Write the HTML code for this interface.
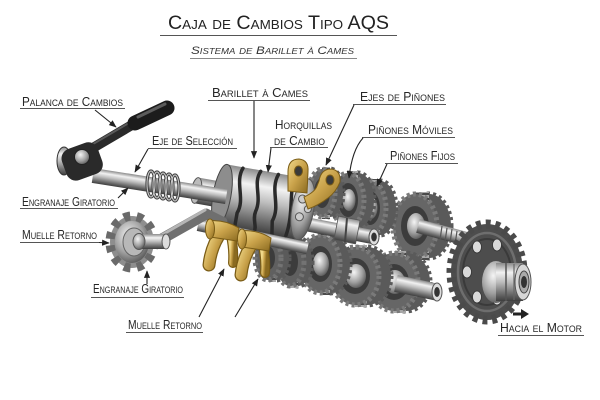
<!DOCTYPE html>
<html><head><meta charset="utf-8"><style>
html,body{margin:0;padding:0;background:#fff;}
svg{display:block;}
.lb{font-family:"Liberation Sans",sans-serif;font-variant:small-caps;fill:#262626;font-size:12.5px;}
.ul{stroke:#555;stroke-width:1;}
.ld{stroke:#222;stroke-width:1.1;fill:none;marker-end:url(#ar);}
</style></head><body>
<svg width="600" height="400" viewBox="0 0 600 400" xmlns="http://www.w3.org/2000/svg">
<defs>
<linearGradient id="m" x1="0" y1="0" x2="0" y2="1">
<stop offset="0" stop-color="#8a8a8a"/><stop offset=".25" stop-color="#f2f2f2"/><stop offset=".5" stop-color="#bdbdbd"/><stop offset=".8" stop-color="#6e6e6e"/><stop offset="1" stop-color="#3e3e3e"/>
</linearGradient>
<radialGradient id="mr" cx=".4" cy=".35" r=".7"><stop offset="0" stop-color="#f5f5f5"/><stop offset=".6" stop-color="#a0a0a0"/><stop offset="1" stop-color="#555"/></radialGradient>
<linearGradient id="g" x1="0" y1="0" x2="1" y2="1"><stop offset="0" stop-color="#f1d98a"/><stop offset=".5" stop-color="#c9a24a"/><stop offset="1" stop-color="#8a6a20"/></linearGradient>
<pattern id="st" width="6" height="5" patternUnits="userSpaceOnUse"><rect width="6" height="5" fill="#a8a8a8"/><rect y="3" width="6" height="2" fill="#4a4a4a"/></pattern>
<marker id="ar" viewBox="0 0 10 10" refX="9" refY="5" markerWidth="7" markerHeight="7" orient="auto"><path d="M0,1 L10,5 L0,9 z" fill="#222"/></marker>
</defs>

<!-- upper main shaft (behind) -->
<rect x="282" y="189" width="140" height="12" transform="rotate(12 282 195)" fill="url(#m)"/>

<!-- upper gears right to left -->
<g>
<ellipse cx="429" cy="226" rx="22" ry="32" fill="#5a5a5a" stroke="#5a5a5a" stroke-width="5" stroke-dasharray="3 3"/>
<rect x="415" y="192" width="14" height="68" fill="url(#st)"/>
<ellipse cx="415" cy="226" rx="22" ry="32" fill="#666" stroke="#7a7a7a" stroke-width="5" stroke-dasharray="3 3"/>
<ellipse cx="415" cy="226" rx="14" ry="20" fill="#3c3c3c"/>
<ellipse cx="416" cy="226" rx="9" ry="13" fill="url(#mr)"/>
</g>
<!-- upper shaft spline end -->
<rect x="418" y="219" width="52" height="14" transform="rotate(15 418 226)" fill="url(#m)"/>
<g stroke="#555" stroke-width="1.2"><line x1="442" y1="226" x2="440" y2="240"/><line x1="447" y1="228" x2="445" y2="242"/><line x1="452" y1="229" x2="450" y2="243"/><line x1="457" y1="231" x2="455" y2="245"/></g>
<g>
<ellipse cx="380" cy="208" rx="16" ry="27" fill="#5a5a5a" stroke="#5a5a5a" stroke-width="5" stroke-dasharray="3 3"/>
<rect x="370" y="179" width="10" height="58" fill="url(#st)"/>
<ellipse cx="370" cy="208" rx="16" ry="27" fill="#666" stroke="#7a7a7a" stroke-width="5" stroke-dasharray="3 3"/>
<ellipse cx="370" cy="208" rx="10" ry="17" fill="#3c3c3c"/>
<ellipse cx="371" cy="208" rx="6.5" ry="11" fill="url(#mr)"/>
</g>
<g>
<ellipse cx="358" cy="200" rx="16" ry="27" fill="#5a5a5a" stroke="#5a5a5a" stroke-width="5" stroke-dasharray="3 3"/>
<rect x="348" y="171" width="10" height="58" fill="url(#st)"/>
<ellipse cx="348" cy="200" rx="16" ry="27" fill="#666" stroke="#7a7a7a" stroke-width="5" stroke-dasharray="3 3"/>
<ellipse cx="348" cy="200" rx="10" ry="17" fill="#3c3c3c"/>
<ellipse cx="349" cy="200" rx="6.5" ry="11" fill="url(#mr)"/>
</g>
<g>
<ellipse cx="330" cy="193" rx="13" ry="24" fill="#5a5a5a" stroke="#5a5a5a" stroke-width="5" stroke-dasharray="3 3"/>
<rect x="322" y="167" width="8" height="52" fill="url(#st)"/>
<ellipse cx="322" cy="193" rx="13" ry="24" fill="#666" stroke="#7a7a7a" stroke-width="5" stroke-dasharray="3 3"/>
<ellipse cx="322" cy="193" rx="8" ry="15" fill="#3c3c3c"/>
</g>

<!-- sprocket -->
<g>
<ellipse cx="487" cy="272" rx="36" ry="48" fill="#4d4d4d" stroke="#4a4a4a" stroke-width="9" stroke-dasharray="4.7 4.7"/>
<ellipse cx="487" cy="272" rx="29" ry="39" fill="none" stroke="#6e6e6e" stroke-width="2.5"/>
<ellipse cx="487" cy="272" rx="24" ry="33" fill="none" stroke="#3a3a3a" stroke-width="2"/>
<g fill="#d9d9d9" stroke="#333" stroke-width=".8">
<ellipse cx="467" cy="272" rx="4.5" ry="6"/><ellipse cx="477" cy="297" rx="4.5" ry="6"/><ellipse cx="477" cy="247" rx="4.5" ry="6"/><ellipse cx="497" cy="299" rx="4.5" ry="6"/><ellipse cx="497" cy="245" rx="4.5" ry="6"/>
</g>
<ellipse cx="496" cy="282" rx="14" ry="21" fill="url(#mr)"/>
<rect x="496" y="263" width="27" height="38" fill="url(#m)"/>
<line x1="506" y1="263" x2="506" y2="301" stroke="#555" stroke-width="1.5"/>
<line x1="514" y1="264" x2="514" y2="300" stroke="#666" stroke-width="1.2"/>
<ellipse cx="523" cy="282" rx="8" ry="18" fill="#d6d6d6" stroke="#555"/>
<ellipse cx="524" cy="282" rx="5" ry="11" fill="#aaa" stroke="#444"/>
<ellipse cx="524" cy="282" rx="3" ry="6" fill="#333"/>
</g>

<!-- lower shaft -->
<rect x="290" y="243" width="115" height="16" transform="rotate(16 290 251)" fill="url(#m)"/>
<!-- lower gears right to left -->
<g>
<ellipse cx="406" cy="282" rx="24" ry="29" fill="#5a5a5a" stroke="#5a5a5a" stroke-width="5" stroke-dasharray="3 3"/>
<rect x="394" y="251" width="12" height="62" fill="url(#st)"/>
<ellipse cx="394" cy="282" rx="24" ry="29" fill="#666" stroke="#7a7a7a" stroke-width="5" stroke-dasharray="3 3"/>
<ellipse cx="394" cy="282" rx="15" ry="18" fill="#3c3c3c"/>
<ellipse cx="395" cy="282" rx="10" ry="12" fill="url(#mr)"/>
</g>
<rect x="396" y="275" width="42" height="17" transform="rotate(12 396 283)" fill="url(#m)"/>
<ellipse cx="437" cy="292" rx="5" ry="9" fill="#ddd" stroke="#555"/>
<ellipse cx="437" cy="292" rx="2.8" ry="5" fill="#333"/>
<g>
<ellipse cx="367" cy="276" rx="24" ry="29" fill="#5a5a5a" stroke="#5a5a5a" stroke-width="5" stroke-dasharray="3 3"/>
<rect x="355" y="245" width="12" height="62" fill="url(#st)"/>
<ellipse cx="355" cy="276" rx="24" ry="29" fill="#666" stroke="#7a7a7a" stroke-width="5" stroke-dasharray="3 3"/>
<ellipse cx="355" cy="276" rx="15" ry="18" fill="#3c3c3c"/>
<ellipse cx="356" cy="276" rx="10" ry="12" fill="url(#mr)"/>
</g>
<g>
<ellipse cx="330" cy="264" rx="20" ry="29" fill="#5a5a5a" stroke="#5a5a5a" stroke-width="5" stroke-dasharray="3 3"/>
<rect x="320" y="233" width="10" height="62" fill="url(#st)"/>
<ellipse cx="320" cy="264" rx="20" ry="29" fill="#666" stroke="#7a7a7a" stroke-width="5" stroke-dasharray="3 3"/>
<ellipse cx="320" cy="264" rx="12" ry="18" fill="#3c3c3c"/>
<ellipse cx="321" cy="264" rx="8" ry="12" fill="url(#mr)"/>
</g>
<g>
<ellipse cx="298" cy="262" rx="14" ry="24" fill="#5a5a5a" stroke="#5a5a5a" stroke-width="5" stroke-dasharray="3 3"/>
<rect x="290" y="236" width="8" height="52" fill="url(#st)"/>
<ellipse cx="290" cy="262" rx="14" ry="24" fill="#606060" stroke="#737373" stroke-width="5" stroke-dasharray="3 3"/>
<ellipse cx="290" cy="262" rx="8" ry="14" fill="#3c3c3c"/>
</g>
<g>
<ellipse cx="276" cy="258" rx="13" ry="22" fill="#5a5a5a" stroke="#5a5a5a" stroke-width="5" stroke-dasharray="3 3"/>
<rect x="268" y="234" width="8" height="48" fill="url(#st)"/>
<ellipse cx="268" cy="258" rx="13" ry="22" fill="#606060" stroke="#737373" stroke-width="5" stroke-dasharray="3 3"/>
<ellipse cx="268" cy="258" rx="7" ry="12" fill="#3c3c3c"/>
</g>

<!-- middle shaft -->
<rect x="295" y="215" width="80" height="14" transform="rotate(11 295 222)" fill="url(#m)"/>
<rect x="336" y="218" width="22" height="24" transform="rotate(11 347 230)" fill="url(#m)" stroke="#555" stroke-width=".8"/>
<line x1="347" y1="218" x2="345" y2="242" stroke="#444" stroke-width="2"/>
<ellipse cx="374" cy="237" rx="5" ry="8" fill="#ddd" stroke="#555"/>
<ellipse cx="374" cy="237" rx="2.8" ry="4.5" fill="#333"/>

<!-- drum -->
<g transform="rotate(10 222 195)">
<rect x="196" y="182" width="28" height="26" fill="url(#m)"/>
<ellipse cx="196" cy="195" rx="5" ry="13" fill="#bbb" stroke="#555"/>
<rect x="222" y="164" width="82" height="62" fill="url(#m)"/>
<ellipse cx="222" cy="195" rx="9" ry="31" fill="#8d8d8d" stroke="#444"/>
<g stroke="#2a2a2a" stroke-width="3.5" fill="none" stroke-linecap="round">
<path d="M238,165 C232,180 246,195 240,210 L240,224"/>
<path d="M256,165 C250,178 262,190 258,205 C256,214 262,220 260,225"/>
<path d="M274,165 C268,182 282,195 276,212 L278,225"/>
<path d="M291,166 C287,180 296,200 292,224"/>
</g>
<ellipse cx="304" cy="195" rx="11" ry="31" fill="url(#mr)" stroke="#555"/>
<circle cx="302" cy="185" r="4" fill="#ccc" stroke="#555"/>
<circle cx="302" cy="203" r="4" fill="#ccc" stroke="#555"/>
<circle cx="309" cy="194" r="3.5" fill="#ccc" stroke="#555"/>
</g>

<!-- upper forks -->
<path d="M288,172 Q288,159 299,159 Q309,160 308,172 L307,193 L288,191 Z" fill="url(#g)" stroke="#7a5c16" stroke-width="1"/>
<ellipse cx="298.5" cy="171" rx="4" ry="5" fill="#3a3a3a" stroke="#7a5c16"/>
<path d="M319,181 Q321,169 331,169 Q341,170 340,182 Q336,192 328,198 Q319,205 308,209 L304,197 Q315,192 317,186 Z" fill="url(#g)" stroke="#7a5c16" stroke-width="1"/>
<ellipse cx="330" cy="180" rx="4" ry="5" fill="#3a3a3a" stroke="#7a5c16"/>

<!-- fork shaft -->
<rect x="198" y="219" width="112" height="12" transform="rotate(12 198 225)" fill="url(#m)"/>
<!-- link arm -->
<path d="M160,240 L206,214 L222,222" stroke="#6f6f6f" stroke-width="11" fill="none" stroke-linecap="round" stroke-linejoin="round"/>
<path d="M160,236 L205,210" stroke="#b5b5b5" stroke-width="3" fill="none" stroke-linecap="round"/>

<!-- lower forks -->
<g>
<path d="M222,231 Q211,246 209,265" stroke="#7a5c16" stroke-width="13" fill="none" stroke-linecap="round"/>
<path d="M222,231 Q211,246 209,265" stroke="url(#g)" stroke-width="10.5" fill="none" stroke-linecap="round"/>
<path d="M231,236 Q234,250 233,263" stroke="#7a5c16" stroke-width="10" fill="none" stroke-linecap="round"/>
<path d="M231,236 Q234,250 233,263" stroke="url(#g)" stroke-width="7.5" fill="none" stroke-linecap="round"/>
<path d="M208,221 Q224,219 239,228 L237,241 Q224,239 210,237 Z" fill="url(#g)" stroke="#7a5c16" stroke-width="1"/>
<ellipse cx="210" cy="229" rx="4.5" ry="10" fill="url(#g)" stroke="#7a5c16"/>
</g>
<g transform="translate(32,10)">
<path d="M222,231 Q211,246 209,265" stroke="#7a5c16" stroke-width="13" fill="none" stroke-linecap="round"/>
<path d="M222,231 Q211,246 209,265" stroke="url(#g)" stroke-width="10.5" fill="none" stroke-linecap="round"/>
<path d="M231,236 Q234,250 233,263" stroke="#7a5c16" stroke-width="10" fill="none" stroke-linecap="round"/>
<path d="M231,236 Q234,250 233,263" stroke="url(#g)" stroke-width="7.5" fill="none" stroke-linecap="round"/>
<path d="M208,221 Q224,219 239,228 L237,241 Q224,239 210,237 Z" fill="url(#g)" stroke="#7a5c16" stroke-width="1"/>
<ellipse cx="210" cy="229" rx="4.5" ry="10" fill="url(#g)" stroke="#7a5c16"/>
</g>

<!-- selection shaft -->
<rect x="93" y="168" width="135" height="15" transform="rotate(9 93 175)" fill="url(#m)"/>
<!-- spring -->
<g fill="none">
<g stroke="#444" stroke-width="3.2">
<ellipse cx="151" cy="184" rx="4" ry="13"/><ellipse cx="157" cy="185" rx="4" ry="13"/><ellipse cx="163" cy="186" rx="4" ry="13"/><ellipse cx="169" cy="187" rx="4" ry="13"/><ellipse cx="175" cy="188" rx="4" ry="13"/>
</g>
<g stroke="#d0d0d0" stroke-width="1">
<ellipse cx="151" cy="184" rx="4" ry="13"/><ellipse cx="157" cy="185" rx="4" ry="13"/><ellipse cx="163" cy="186" rx="4" ry="13"/><ellipse cx="169" cy="187" rx="4" ry="13"/><ellipse cx="175" cy="188" rx="4" ry="13"/>
</g>
</g>

<!-- lever -->
<path d="M86,152 L137,122" stroke="#2a2a2a" stroke-width="10" stroke-linecap="round"/>
<path d="M88,147 L134,120" stroke="#5a5a5a" stroke-width="2" stroke-linecap="round"/>
<path d="M135,123 L167,108" stroke="#1c1c1c" stroke-width="15" stroke-linecap="round"/>
<path d="M138,117 L165,104" stroke="#5c5c5c" stroke-width="3" stroke-linecap="round"/>
<ellipse cx="64" cy="161" rx="7" ry="14" fill="url(#m)" stroke="#333"/>
<rect x="63" y="145" width="38" height="33" rx="10" fill="#2a2a2a" transform="rotate(-20 82 161)"/>
<circle cx="82" cy="157" r="7.5" fill="url(#mr)" stroke="#222"/>

<!-- left gear -->
<ellipse cx="132" cy="242" rx="22" ry="26" fill="#8e8e8e" stroke="#6a6a6a" stroke-width="9" stroke-dasharray="6.5 6.6"/>
<ellipse cx="132" cy="242" rx="17" ry="21" fill="url(#mr)"/>
<ellipse cx="134" cy="242" rx="11" ry="14" fill="#b8b8b8" stroke="#666"/>
<rect x="138" y="234" width="28" height="15" fill="url(#m)"/>
<ellipse cx="139" cy="241.5" rx="6" ry="8" fill="url(#mr)" stroke="#555"/>
<ellipse cx="166" cy="241.5" rx="4" ry="7.5" fill="#ddd" stroke="#555"/>

<!-- title -->
<text x="168" y="29" textLength="221" lengthAdjust="spacingAndGlyphs" style="font-family:'Liberation Sans',sans-serif;font-variant:small-caps;font-size:19px;fill:#222;">Caja de Cambios Tipo AQS</text>
<line x1="160" y1="35.5" x2="397" y2="35.5" stroke="#555" stroke-width="1"/>
<text x="191" y="54" textLength="163" lengthAdjust="spacingAndGlyphs" style="font-family:'Liberation Sans',sans-serif;font-variant:small-caps;font-style:italic;font-size:11px;fill:#333;">Sistema de Barillet à Cames</text>
<line x1="190" y1="58.5" x2="357" y2="58.5" stroke="#888" stroke-width="1"/>

<!-- labels -->
<text class="lb" x="22" y="106" textLength="101" lengthAdjust="spacingAndGlyphs">Palanca de Cambios</text>
<line class="ul" x1="20" y1="108.5" x2="125" y2="108.5"/>
<text class="lb" x="152" y="145" textLength="81" lengthAdjust="spacingAndGlyphs">Eje de Selección</text>
<line class="ul" x1="148" y1="148.5" x2="237" y2="148.5"/>
<text class="lb" x="22" y="206" textLength="93" lengthAdjust="spacingAndGlyphs">Engranaje Giratorio</text>
<line class="ul" x1="20" y1="208.5" x2="118" y2="208.5"/>
<text class="lb" x="212" y="97" textLength="96" lengthAdjust="spacingAndGlyphs">Barillet à Cames</text>
<line class="ul" x1="208" y1="100.5" x2="310" y2="100.5"/>
<text class="lb" x="275" y="129" textLength="57" lengthAdjust="spacingAndGlyphs">Horquillas</text>
<text class="lb" x="274" y="145" textLength="51" lengthAdjust="spacingAndGlyphs">de Cambio</text>
<line class="ul" x1="270" y1="147.5" x2="328" y2="147.5"/>
<text class="lb" x="360" y="101" textLength="85" lengthAdjust="spacingAndGlyphs">Ejes de Piñones</text>
<line class="ul" x1="353" y1="104.5" x2="446" y2="104.5"/>
<text class="lb" x="368" y="134" textLength="85" lengthAdjust="spacingAndGlyphs">Piñones Móviles</text>
<line class="ul" x1="362" y1="137.5" x2="455" y2="137.5"/>
<text class="lb" x="390" y="160" textLength="65" lengthAdjust="spacingAndGlyphs">Piñones Fijos</text>
<line class="ul" x1="385" y1="163.5" x2="458" y2="163.5"/>
<text class="lb" x="22" y="239" textLength="75" lengthAdjust="spacingAndGlyphs">Muelle Retorno</text>
<line class="ul" x1="20" y1="242.5" x2="99" y2="242.5"/>
<text class="lb" x="93" y="293" textLength="90" lengthAdjust="spacingAndGlyphs">Engranaje Giratorio</text>
<line class="ul" x1="91" y1="297.5" x2="184" y2="297.5"/>
<text class="lb" x="128" y="329" textLength="74" lengthAdjust="spacingAndGlyphs">Muelle Retorno</text>
<line class="ul" x1="126" y1="332.5" x2="203" y2="332.5"/>
<text class="lb" x="500" y="332" textLength="82" lengthAdjust="spacingAndGlyphs">Hacia el Motor</text>
<line class="ul" x1="498" y1="335.5" x2="584" y2="335.5"/>

<!-- leaders -->
<path class="ld" d="M95,110 L116,127"/>
<path class="ld" d="M148,149 L135,172"/>
<path class="ld" d="M118,198 L128,188"/>
<path class="ld" d="M254,101 L254,158"/>
<path class="ld" d="M271,148 L268,172"/>
<path class="ld" d="M354,105 L326,165"/>
<path class="ld" d="M363,138 Q352,150 349,178"/>
<path class="ld" d="M387,164 L377,186"/>
<path class="ld" d="M99,242.5 L109,243"/>
<path class="ld" d="M147,284 L147,271"/>
<path class="ld" d="M199,317 L224,269"/>
<path class="ld" d="M235,317 L258,279"/>
<path d="M513,312.5 L521,312.5 L521,309 L529,314 L521,319 L521,315.5 L513,315.5 Z" fill="#222"/>
</svg>
</body></html>
